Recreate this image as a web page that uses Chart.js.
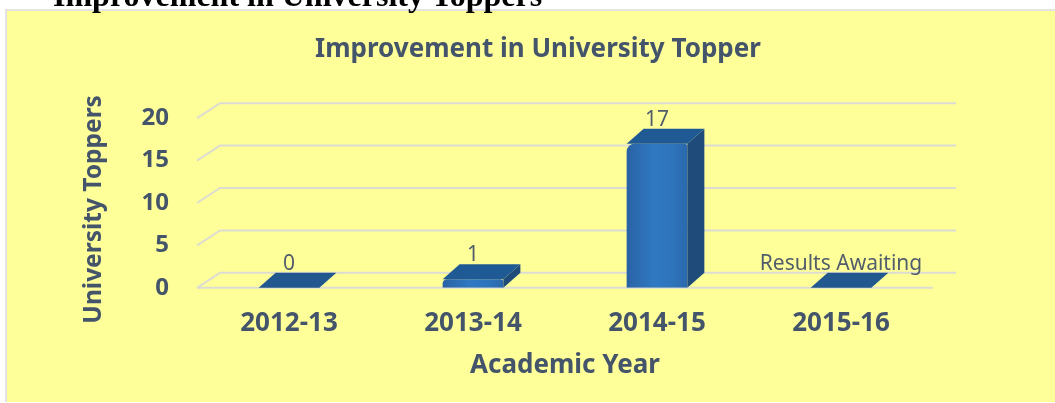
<!DOCTYPE html>
<html>
<head>
<meta charset="utf-8">
<title>Improvement in University Toppers</title>
<script src="https://cdn.jsdelivr.net/npm/chart.js@4.4.1/dist/chart.umd.min.js"></script>
<style>
  html, body { margin: 0; padding: 0; background: #fff; width: 1055px; height: 403px; overflow: hidden; }
  #panel {
    position: absolute; left: 5px; top: 9px; width: 1050px; height: 393px;
    box-sizing: border-box; border-left: 2px solid #e3e3e3; border-top: 2px solid #e3e3e3;
    background: #ffff99;
  }
  #wrap { position: absolute; left: 0; top: 0; width: 1048px; height: 391px; }
  #heading {
    position: absolute; left: 53px; top: -21px; z-index: 2;
    font: bold 32px "Liberation Serif", "Times New Roman", serif; line-height: 32px;
    color: #000; white-space: nowrap;
  }
</style>
</head>
<body>
<div id="panel"><div id="wrap"><canvas id="topperChart"></canvas></div></div>
<div id="heading">Improvement in University Toppers</div>
<script>
const years = ["2012-13", "2013-14", "2014-15", "2015-16"];
const toppers = [0, 1, 17, 0];
const barLabels = ["0", "1", "17", "Results Awaiting"];
const yTicks = [0, 5, 10, 15, 20];

const TEXT_COLOR = "#44546a";
const FONT = "'Noto Sans', 'Open Sans', sans-serif";
const BAR_FRACTION = 0.33;
// offsets for the fake 3d look
const BAR_DX = 17, BAR_DY = -15;
const WALL_DX = 23, WALL_DY = -15;

const wallPlugin = {
  id: "wall",
  beforeDatasetsDraw(chart) {
    const { ctx, chartArea, scales } = chart;
    const y = scales.y;
    ctx.save();
    ctx.strokeStyle = "#dcdcd2";
    ctx.lineWidth = 2;
    y.ticks.forEach((t) => {
      const py = y.getPixelForValue(t.value);
      ctx.beginPath();
      ctx.moveTo(chartArea.left, py);
      ctx.lineTo(chartArea.left + WALL_DX, py + WALL_DY);
      ctx.lineTo(chartArea.right + WALL_DX, py + WALL_DY);
      ctx.stroke();
    });
    const y0 = y.getPixelForValue(0);
    ctx.beginPath();
    ctx.moveTo(chartArea.left, y0);
    ctx.lineTo(chartArea.right, y0);
    ctx.stroke();
    ctx.restore();
  },
};

const depthPlugin = {
  id: "depth",
  afterDatasetsDraw(chart) {
    const { ctx } = chart;
    const meta = chart.getDatasetMeta(0);
    ctx.save();
    meta.data.forEach((bar, i) => {
      const { x, y, base, width } = bar.getProps(["x", "y", "base", "width"], true);
      const xl = x - width / 2;
      const xr = x + width / 2;

      if (base - y > 1) {
        ctx.fillStyle = "#1f4b7b";
        ctx.beginPath();
        ctx.moveTo(xr, y);
        ctx.lineTo(xr + BAR_DX, y + BAR_DY);
        ctx.lineTo(xr + BAR_DX, base + BAR_DY);
        ctx.lineTo(xr, base);
        ctx.closePath();
        ctx.fill();
      }

      ctx.fillStyle = toppers[i] > 0 ? "#1f5a95" : "#22588d";
      ctx.beginPath();
      ctx.moveTo(xl, y);
      ctx.lineTo(xl + BAR_DX, y + BAR_DY);
      ctx.lineTo(xr + BAR_DX, y + BAR_DY);
      ctx.lineTo(xr, y);
      ctx.closePath();
      ctx.fill();

      ctx.fillStyle = "#525d6b";
      ctx.font = "21px " + FONT;
      ctx.textAlign = "center";
      ctx.textBaseline = "middle";
      ctx.fillText(barLabels[i], x, y + BAR_DY - 9);
    });
    ctx.restore();
  },
};

function frontFill(c) {
  const chart = c.chart;
  if (!chart.chartArea) return "#2e70b5";
  const cx = chart.scales.x.getPixelForValue(c.dataIndex);
  const half = (chart.chartArea.width / years.length) * BAR_FRACTION / 2;
  const g = chart.ctx.createLinearGradient(cx - half, 0, cx + half, 0);
  g.addColorStop(0, "#2962a4");
  g.addColorStop(0.45, "#3079c2");
  g.addColorStop(0.75, "#2e74bc");
  g.addColorStop(1, "#2a68ac");
  return g;
}

new Chart(document.getElementById("topperChart"), {
  type: "bar",
  data: {
    labels: years,
    datasets: [
      {
        data: toppers,
        backgroundColor: frontFill,
        borderWidth: 0,
        borderRadius: { topLeft: 8, topRight: 3 },
        borderSkipped: "start",
        barPercentage: BAR_FRACTION,
        categoryPercentage: 1,
      },
    ],
  },
  options: {
    responsive: true,
    maintainAspectRatio: false,
    animation: false,
    layout: { padding: { left: 40, right: 26, top: 2, bottom: 8 } },
    plugins: {
      legend: { display: false },
      tooltip: { enabled: false },
      title: {
        display: true,
        text: "Improvement in University Topper",
        color: TEXT_COLOR,
        font: { family: FONT, size: 26, weight: "bold" },
        padding: { top: 21, bottom: 53 },
      },
    },
    scales: {
      x: {
        grid: { display: false, drawTicks: false },
        border: { display: false },
        ticks: { color: TEXT_COLOR, font: { family: FONT, size: 26, weight: "bold" }, padding: 20 },
        title: {
          display: true,
          text: "Academic Year",
          color: TEXT_COLOR,
          font: { family: FONT, size: 26, weight: "bold", lineHeight: 0.5 },
          padding: { top: 0, bottom: 22 },
        },
      },
      y: {
        min: 0,
        max: 20,
        afterBuildTicks: (s) => {
          s.ticks = yTicks.map((v) => ({ value: v }));
        },
        afterFit: (s) => {
          s.width = 150;
        },
        grid: { display: false, drawTicks: false },
        border: { display: false },
        ticks: { color: TEXT_COLOR, font: { family: FONT, size: 24, weight: "bold" }, padding: 28 },
        title: {
          display: true,
          text: "University Toppers  ",
          color: TEXT_COLOR,
          font: { family: FONT, size: 24.5, weight: "bold" },
          padding: { top: 32, bottom: 0 },
        },
      },
      yRight: {
        type: "linear",
        position: "right",
        afterFit: (s) => {
          s.width = 96;
        },
        grid: { display: false, drawTicks: false },
        border: { display: false },
        ticks: { display: false },
      },
    },
  },
  plugins: [wallPlugin, depthPlugin],
});
</script>
</body>
</html>
